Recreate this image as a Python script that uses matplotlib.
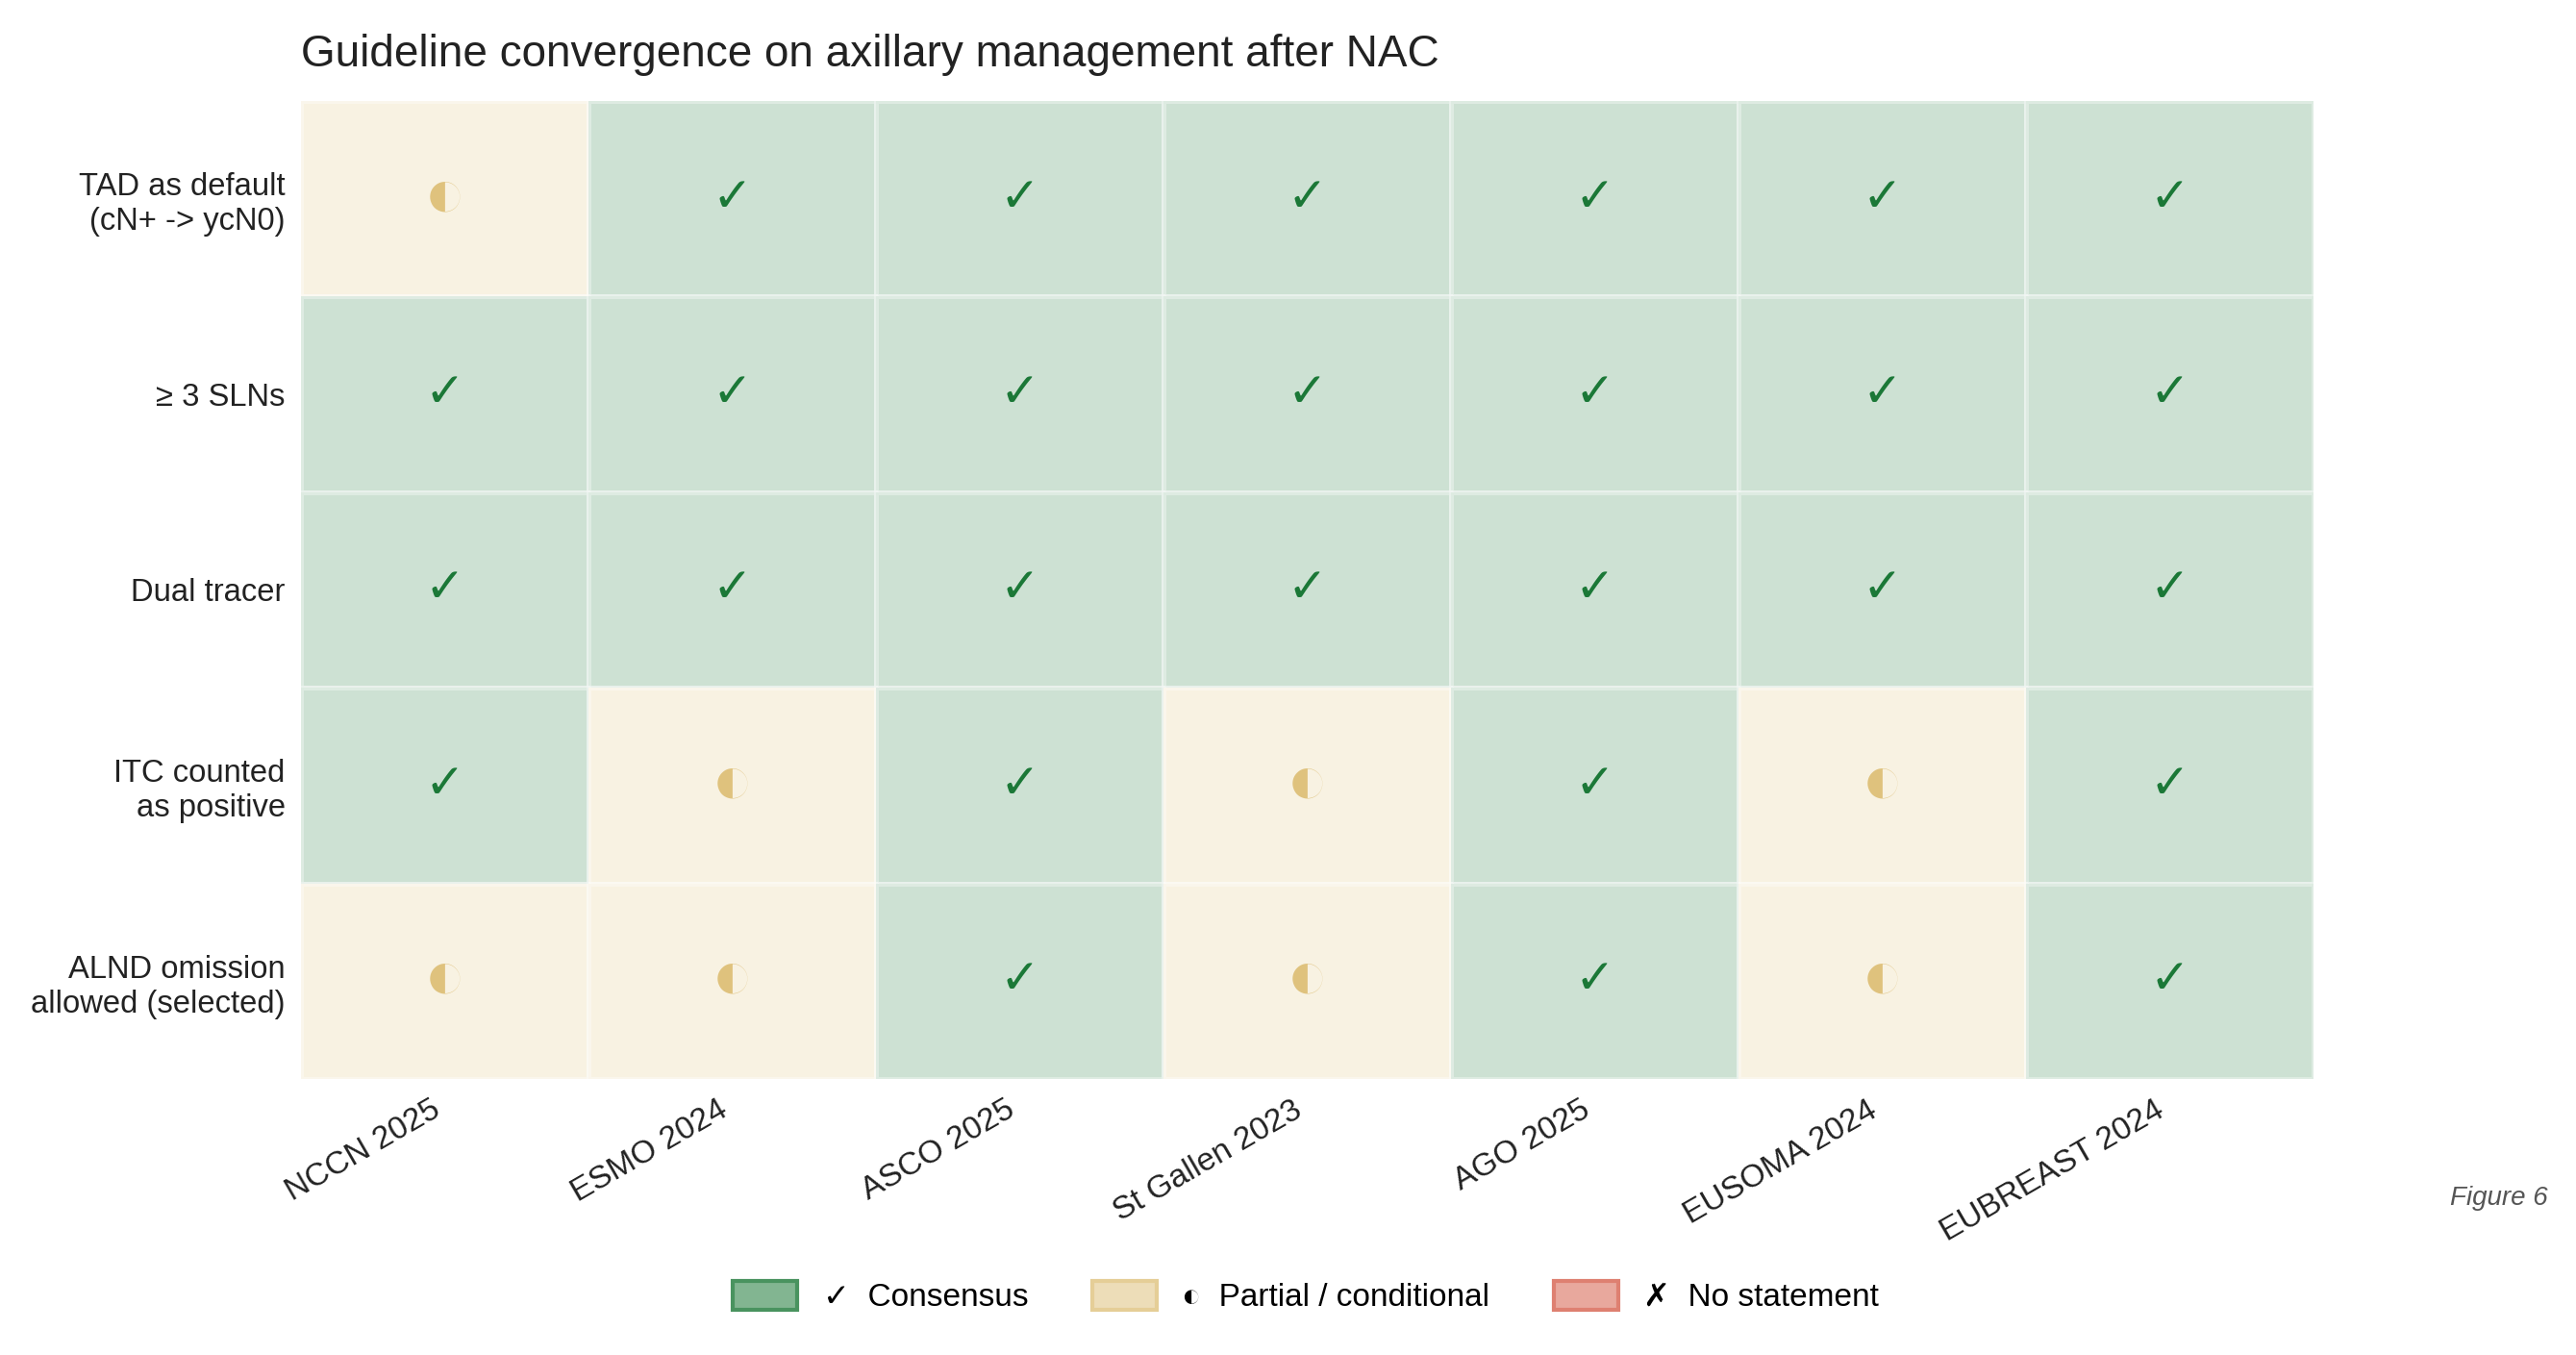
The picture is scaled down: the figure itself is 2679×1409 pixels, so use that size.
import numpy as np
import matplotlib
matplotlib.use('Agg')
import matplotlib.pyplot as plt
from matplotlib.colors import ListedColormap, to_rgb
from matplotlib.patches import Patch

plt.rcParams['font.family'] = ['Liberation Sans', 'DejaVu Sans']

# Data: 2 = consensus, 1 = partial / conditional, 0 = no statement
guidelines = ['NCCN 2025', 'ESMO 2024', 'ASCO 2025', 'St Gallen 2023',
              'AGO 2025', 'EUSOMA 2024', 'EUBREAST 2024']
items = ['TAD as default\n(cN+ -> ycN0)', '\u2265 3 SLNs', 'Dual tracer',
         'ITC counted\nas positive', 'ALND omission\nallowed (selected)']
tad = [1, 2, 2, 2, 2, 2, 2]
sln3 = [2, 2, 2, 2, 2, 2, 2]
dual = [2, 2, 2, 2, 2, 2, 2]
itc = [2, 1, 2, 1, 2, 1, 2]
alnd = [1, 1, 2, 1, 2, 1, 2]

status_labels = ['No statement', 'Partial / conditional', 'Consensus']
status_marks = ['\u2717', '\u25D0', '\u2713']
status_colors = ['#D6604D', '#DFC27D', '#1B7837']
mark_sizes = [18, 26, 18]

matrix = np.array([tad, sln3, dual, itc, alnd])


def blend(c, a):
    r = np.array(to_rgb(c))
    return tuple(1 - a * (1 - r))


cmap = ListedColormap([blend(c, 0.22) for c in status_colors])

fig = plt.figure(figsize=(13.395, 7.045), dpi=200)
ax = fig.add_axes([0.117, 0.2037, 0.781, 0.7218])

ax.pcolormesh(matrix, cmap=cmap, vmin=-0.5, vmax=2.5,
              edgecolors=(1, 1, 1, 0.35), linewidth=1.2)
ax.set_xlim(0, len(guidelines))
ax.set_ylim(len(items), 0)

for i in range(matrix.shape[0]):
    for j in range(matrix.shape[1]):
        v = matrix[i, j]
        ax.text(j + 0.5, i + 0.5, status_marks[v], ha='center', va='center',
                fontsize=mark_sizes[v], color=status_colors[v])

ax.set_xticks(np.arange(len(guidelines)) + 0.5)
ax.set_xticklabels(guidelines, rotation=30, ha='right', fontsize=12, color='#222222')
ax.set_yticks(np.arange(len(items)) + 0.5)
ax.set_yticklabels(items, fontsize=11.8, color='#222222')
ax.tick_params(length=0, pad=6)
for s in ax.spines.values():
    s.set_visible(False)

ax.set_title('Guideline convergence on axillary management after NAC',
             loc='left', fontsize=16.5, color='#222222', pad=13)

handles = [Patch(facecolor=blend(status_colors[k], 0.55),
                 edgecolor=blend(status_colors[k], 0.8), linewidth=1.5,
                 label=f'{status_marks[k]}  {status_labels[k]}')
           for k in [2, 1, 0]]
fig.legend(handles=handles, loc='center', bbox_to_anchor=(0.507, 0.043),
           ncol=3, frameon=False, fontsize=12, columnspacing=2.0,
           handlelength=2.0, handleheight=1.0)

fig.text(0.989, 0.116, 'Figure 6', ha='right', va='center', fontsize=10,
         style='italic', color='#555555')

fig.savefig('out.png', dpi=200)
